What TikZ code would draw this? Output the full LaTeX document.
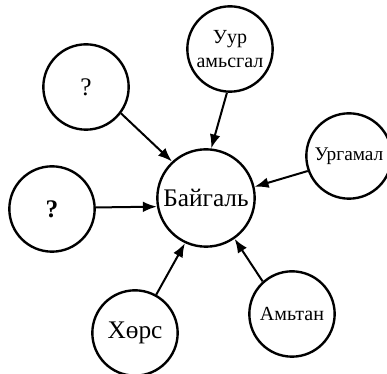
\documentclass[tikz,border=0pt]{standalone}
\usepackage{fontspec}
\setmainfont{Liberation Serif}
\usetikzlibrary{positioning,arrows.meta}

\begin{document}
\begin{tikzpicture}[x=0.75pt, y=0.75pt,
    hub/.style={circle, draw, line width=1.8pt, minimum size=73pt, inner sep=1pt, font=\fontsize{19}{22}\selectfont},
    part/.style={circle, draw, line width=1.8pt, minimum size=64pt, inner sep=1pt, align=center, font=\fontsize{15}{17.5}\selectfont},
    link/.style={-{Latex[length=10.5pt, width=8pt]}, line width=1.5pt}
]
\useasboundingbox (0,0) rectangle (387,374);

% Centre
\node[hub] (nature) at (206,176) {Байгаль};

% Parts around it
\node[part] (climate) at (230,325) {Уур\\амьсгал};
\node[part, font=\fontsize{19}{22}\selectfont] (askTop) at (86,287) {?};
\node[part, font=\fontsize{14.5}{17}\selectfont] (plant) at (349,218) {Ургамал};
\node[part, font=\fontsize{19}{22}\selectfont\bfseries] (askLeft) at (52,165) {?};
\node[part, font=\fontsize{19}{22}\selectfont] (soil) at (135,41) {Хөрс};
\node[part] (animal) at (292,60) {Амьтан};

% Arrows
\draw[link] (askTop.-37) -- (nature.133);
\draw[link] (climate.-94) -- (nature.84);
\draw[link] (plant.200) -- (nature.13);
\draw[link] (askLeft.2) -- (nature.190);
\draw[link] (soil.61) -- (nature.-115);
\draw[link] (animal.132) -- (nature.-55);

\end{tikzpicture}
\end{document}
